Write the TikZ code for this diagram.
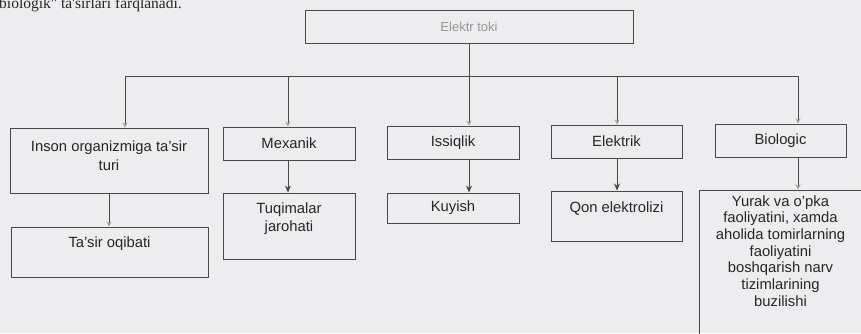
\documentclass[tikz,border=0pt]{standalone}
\usepackage{fontspec}
\setmainfont{Liberation Sans}
\newfontfamily\hdrfont{Liberation Serif}
\usetikzlibrary{arrows.meta}
\definecolor{bgcol}{RGB}{237,237,240}
\definecolor{linecol}{RGB}{72,72,72}
\definecolor{txtcol}{RGB}{38,38,38}
\definecolor{faintcol}{RGB}{150,150,150}
\definecolor{tipcol}{RGB}{160,160,160}
\newcommand{\tbox}[5]{\parbox[c][#2pt][t]{#1pt}{\centering\baselineskip=#4pt\rule{0pt}{#3pt}#5\par}}
\tikzset{
  x=1pt, y=-1pt,
  boxa/.style={draw=linecol, line width=1pt, inner sep=0pt, text=txtcol, font=\fontsize{14.8}{17.5}\selectfont},
  link/.style={draw=linecol, line width=1pt},
  faintarr/.style={link, -{Stealth[length=5pt, width=5pt, color=tipcol]}},
  solidarr/.style={link, -{Stealth[length=7pt, width=6pt]}}
}
\begin{document}
\begin{tikzpicture}
\useasboundingbox (0,0) rectangle (861,333);
\clip (0,0) rectangle (861,333);
\fill[bgcol] (0,0) rectangle (861,333);
% header line (cut off at the top, as in the reference)
\node[anchor=base west, inner sep=0pt, text=txtcol, font=\hdrfont\fontsize{15.5}{18}\selectfont] (hdr) at (-1,8) {biologik" ta'sirlari farqlanadi.};
% top box
\node[boxa, minimum width=328pt, minimum height=33pt, text=faintcol, font=\fontsize{13}{15}\selectfont] (top) at (469,26.5) {Elektr toki};
% first row
\node[boxa] (inson) at (109,160.5) {\tbox{198}{65}{23}{19}{Inson organizmiga ta'sir\\turi}};
\node[boxa, minimum width=132pt, minimum height=33pt] (mex) at (289,143.5) {Mexanik};
\node[boxa, minimum width=132pt, minimum height=33pt] (iss) at (453,142.5) {Issiqlik};
\node[boxa, minimum width=131pt, minimum height=33pt] (ele) at (616.5,141.5) {Elektrik};
\node[boxa, minimum width=131pt, minimum height=33pt] (bio) at (780.5,140.5) {Biologic};
% second row
\node[boxa] (tasir) at (109.5,252) {\tbox{197}{50}{20}{18}{Ta'sir oqibati}};
\node[boxa] (tuq) at (289,226) {\tbox{132}{66}{20}{18}{Tuqimalar\\jarohati}};
\node[boxa, minimum width=132pt, minimum height=30pt] (kuy) at (453,208) {Kuyish};
\node[boxa] (qon) at (616.5,216) {\tbox{131}{50}{21}{18}{Qon elektrolizi}};
\node[boxa] (biob) at (780.5,270) {\tbox{163}{160}{16}{16.7}{Yurak va o'pka\\faoliyatini, xamda\\aholida tomirlarning\\faoliyatini\\boshqarish narv\\tizimlarining\\buzilishi}};
% bus
\coordinate (stem) at (469,76);
\coordinate (busL) at (125,76);
\coordinate (busR) at (798,76);
\coordinate (dM) at (288,76);
\coordinate (dE) at (617,76);
\draw[link] (top.south -| stem) -- (stem);
\draw[link] (busL) -- (busR);
\draw[faintarr] (busL) -- (inson.north -| busL);
\draw[faintarr] (dM) -- (mex.north -| dM);
\draw[faintarr] (stem) -- (iss.north -| stem);
\draw[faintarr] (dE) -- (ele.north -| dE);
\draw[faintarr] (busR) -- (bio.north -| busR);
% second level
\draw[faintarr] (inson.south) -- (tasir.north -| inson.south);
\draw[solidarr] (mex.south -| dM) -- (tuq.north -| dM);
\draw[solidarr] (iss.south -| stem) -- (kuy.north -| stem);
\draw[solidarr] (ele.south -| dE) -- (qon.north -| dE);
\draw[faintarr] (bio.south -| busR) -- (biob.north -| busR);
\end{tikzpicture}
\end{document}
